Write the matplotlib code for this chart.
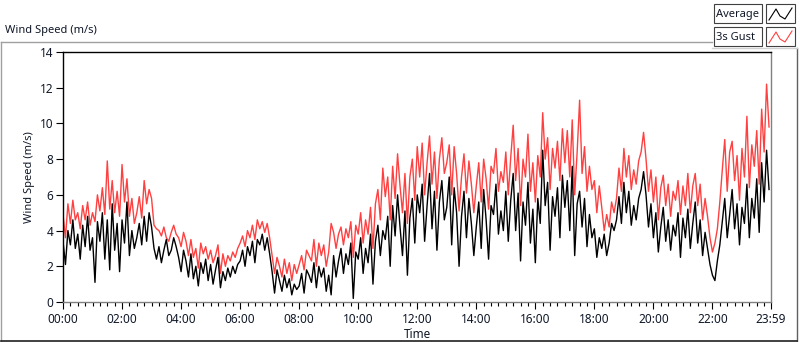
import numpy as np
import matplotlib
matplotlib.use('Agg')
from matplotlib import pyplot as plt
from matplotlib.patches import Rectangle
from matplotlib.lines import Line2D

#%% DATA (5 minute samples, m/s)

avg_speed = [
    3.4, 2.1, 4.0, 3.2, 4.6, 3.0, 3.8, 2.4, 4.3, 3.1, 4.8, 2.9,
    3.6, 1.1, 4.5, 3.4, 5.0, 2.4, 4.6, 1.8, 5.5, 2.9, 4.4, 1.7,
    4.6, 3.3, 5.6, 2.6, 4.0, 3.0, 3.6, 4.4, 3.2, 4.8, 3.4, 5.0,
    4.2, 3.0, 2.4, 3.1, 2.2, 2.9, 3.5, 2.6, 2.9, 3.6, 3.1, 2.5,
    1.7, 2.9, 2.3, 1.4, 2.7, 1.3, 2.0, 0.9, 2.2, 1.6, 2.4, 1.2,
    2.1, 1.0, 1.8, 2.5, 0.8, 1.7, 1.2, 1.9, 1.4, 2.0, 1.6, 2.1,
    2.3, 2.9, 2.0, 3.1, 2.6, 3.4, 2.2, 3.5, 3.2, 3.8, 2.9, 3.6,
    2.7, 1.7, 0.5, 1.8, 1.2, 0.6, 1.5, 0.8, 1.3, 0.4, 1.0, 0.7,
    0.9, 1.6, 0.5, 1.8, 1.5, 1.1, 2.2, 0.8, 2.0, 1.4, 1.9, 0.6,
    1.5, 0.4, 2.6, 1.4, 2.3, 3.0, 1.6, 2.7, 2.1, 3.3, 0.2, 2.8,
    2.4, 3.6, 1.6, 3.0, 2.2, 3.8, 1.0, 3.4, 4.3, 2.6, 4.0, 3.5,
    4.8, 2.0, 5.4, 3.7, 6.0, 4.2, 2.6, 5.1, 1.5, 4.7, 5.8, 3.3,
    6.0, 5.0, 6.6, 3.4, 5.4, 7.2, 4.1, 6.2, 2.9, 5.6, 6.8, 4.6,
    5.3, 7.0, 3.2, 6.4, 5.0, 2.0, 4.8, 6.2, 3.6, 5.8, 4.4, 2.6,
    4.2, 5.6, 3.0, 6.3, 4.6, 2.4, 5.4, 4.9, 6.6, 3.8, 5.1, 4.0,
    6.2, 3.4, 5.7, 7.2, 4.0, 6.1, 2.3, 5.6, 4.3, 6.7, 3.3, 5.2,
    2.2, 5.8, 4.4, 8.5, 5.4, 6.7, 2.9, 5.9, 4.8, 6.4, 3.6, 7.1,
    5.3, 6.8, 4.0, 7.6, 2.6, 5.5, 6.2, 4.2, 5.8, 3.1, 4.9, 3.6,
    4.1, 2.5, 3.6, 3.0, 3.8, 2.6, 3.3, 4.4, 4.0, 4.6, 5.9, 4.4,
    6.7, 5.0, 6.2, 4.3, 5.4, 4.6, 5.8, 6.3, 7.3, 6.0, 4.2, 5.5,
    3.6, 5.0, 2.8, 4.2, 5.3, 3.4, 4.6, 2.9, 4.3, 3.7, 5.0, 2.5,
    4.7, 3.6, 5.2, 3.0, 4.4, 5.6, 3.3, 4.6, 2.6, 3.9, 3.0, 2.1,
    1.5, 1.2, 2.3, 3.2, 4.5, 5.8, 3.6, 4.9, 6.3, 4.1, 5.5, 3.2,
    5.3, 4.4, 6.6, 3.6, 5.8, 4.7, 6.9, 3.9, 7.8, 5.6, 8.5, 6.3,
]

gust_speed = [
    4.9, 3.6, 5.5, 4.4, 5.7, 4.6, 5.0, 4.1, 5.4, 4.6, 5.6, 4.3,
    5.0, 4.5, 6.0, 5.1, 6.4, 4.9, 7.9, 5.2, 6.8, 5.0, 6.2, 4.8,
    7.7, 5.6, 6.9, 4.8, 5.8, 4.4, 5.0, 5.9, 4.7, 6.8, 5.5, 6.3,
    5.8, 4.3, 4.1, 4.0, 3.7, 4.2, 3.6, 3.4, 3.9, 4.3, 3.8, 3.6,
    3.1, 3.9, 3.4, 2.6, 3.5, 2.5, 3.0, 1.9, 3.3, 2.7, 3.1, 2.4,
    2.9, 2.2, 2.6, 3.2, 1.6, 2.7, 2.0, 2.6, 2.3, 2.8, 2.5, 3.0,
    3.3, 3.7, 3.1, 4.0, 3.6, 4.3, 3.5, 4.6, 4.1, 4.5, 3.9, 4.4,
    3.6, 2.6, 1.6, 2.5, 2.0, 1.4, 2.4, 1.6, 2.2, 1.2, 2.1, 1.6,
    2.1, 2.6, 1.8, 2.9, 2.6, 2.3, 3.5, 2.0, 3.3, 2.6, 3.2, 2.0,
    2.8, 4.4, 3.9, 3.0, 3.8, 4.2, 3.2, 4.1, 3.6, 4.5, 2.5, 4.3,
    3.8, 5.0, 3.3, 4.6, 3.8, 5.3, 3.0, 5.5, 6.3, 4.6, 7.5, 5.9,
    7.0, 4.6, 7.6, 5.8, 8.3, 6.5, 5.0, 7.2, 4.4, 7.0, 8.0, 5.7,
    8.7, 7.0, 8.9, 6.0, 7.8, 9.3, 6.6, 8.4, 5.8, 8.0, 9.2, 7.2,
    7.8, 8.8, 6.0, 8.7, 7.2, 5.1, 7.0, 8.3, 6.1, 7.9, 6.6, 5.0,
    6.5, 7.8, 5.6, 8.0, 6.9, 5.2, 7.6, 7.2, 8.6, 6.2, 7.3, 6.7,
    8.4, 6.0, 8.1, 9.9, 6.8, 8.6, 5.4, 8.0, 7.0, 9.4, 6.2, 7.8,
    5.6, 8.2, 7.0, 10.6, 8.0, 9.2, 6.3, 8.6, 7.5, 9.0, 6.8, 9.7,
    7.8, 9.6, 7.0, 10.2, 6.0, 8.4, 11.3, 7.2, 8.7, 6.2, 7.6, 6.3,
    6.8, 5.0, 6.5, 5.3, 4.0, 4.9, 4.2, 5.6, 5.0, 5.8, 7.5, 6.2,
    8.6, 7.0, 8.2, 6.3, 7.4, 6.6, 7.9, 8.4, 9.5, 8.0, 6.2, 7.4,
    5.6, 7.0, 4.6, 6.4, 7.1, 5.4, 6.6, 4.8, 6.2, 5.7, 6.8, 4.9,
    6.5, 5.4, 7.2, 5.0, 6.5, 7.2, 5.4, 6.6, 4.6, 5.8, 4.8, 3.6,
    2.8, 3.3, 4.1, 5.6, 7.4, 9.1, 6.2, 8.4, 9.0, 6.8, 8.2, 5.7,
    8.6, 7.0, 10.4, 6.4, 8.8, 7.6, 9.6, 6.6, 10.8, 8.4, 12.2, 9.8,
]

tick_minutes = [0, 120, 240, 360, 480, 600, 720, 840, 960, 1080, 1200, 1320, 1439]
tick_labels = ['00:00', '02:00', '04:00', '06:00', '08:00', '10:00', '12:00',
               '14:00', '16:00', '18:00', '20:00', '22:00', '23:59']
series_names = ['Average', '3s Gust']
series_colors = ['black', '#ff4040']

#%% FIGURE

W, H = 800, 342
TXT = '#101828'
GRAY = '#a0a0a0'
plt.rcParams['font.family'] = ['Noto Sans', 'DejaVu Sans']


def fx(px):
    return px / W


def fy(py):
    return 1 - py / H


fig = plt.figure(figsize=(W / 100, H / 100), dpi=100)

# panel frame
fig.add_artist(Line2D([fx(1), fx(712)], [fy(42), fy(42)], color=GRAY, lw=1))
fig.add_artist(Line2D([fx(1), fx(1)], [fy(42), fy(341)], color=GRAY, lw=1))
fig.add_artist(Line2D([fx(797), fx(797)], [fy(48), fy(341)], color='#606060', lw=1))
fig.add_artist(Line2D([fx(1), fx(797)], [fy(341), fy(341)], color='#202020', lw=1.2))
fig.add_artist(Line2D([fx(712), fx(797)], [fy(48), fy(48)], color='#d0d0d0', lw=1))
fig.text(fx(5), fy(31), 'Wind Speed (m/s)', fontsize=8, color=TXT,
         ha='left', va='center')

# legend
for i, (name, col) in enumerate(zip(series_names, series_colors)):
    top = 4 + i * 23
    fig.add_artist(Rectangle((fx(714), fy(top + 19)), fx(48), 19 / H,
                             fill=False, ec='#404040', lw=0.8))
    fig.add_artist(Rectangle((fx(766), fy(top + 19)), fx(29), 19 / H,
                             fill=False, ec='#404040', lw=0.8))
    fig.text(fx(716), fy(top + 10), name, fontsize=8, color=TXT,
             ha='left', va='center')
    zx = [769, 776, 780, 785, 792]
    zy = [top + 16, top + 5, top + 12, top + 15, top + 4]
    fig.add_artist(Line2D([fx(v) for v in zx], [fy(v) for v in zy],
                          color=col, lw=0.8))

ax = fig.add_axes([fx(63), fy(302), fx(771) - fx(63), (302 - 52) / H])

minutes = np.arange(len(avg_speed)) * 5
ax.plot(minutes, gust_speed, color=series_colors[1], lw=1.0)
ax.plot(minutes, avg_speed, color=series_colors[0], lw=1.0)

ax.set_xlim(0, 1439)
ax.set_ylim(0, 14)
ax.set_yticks(range(0, 15, 2))
ax.set_xticks(tick_minutes)
ax.set_xticklabels(tick_labels)
ax.set_xticks(np.arange(0, 1440, 15), minor=True)
ax.tick_params(axis='both', which='major', labelsize=8.5, labelcolor=TXT,
               length=5, width=0.8, pad=2)
ax.tick_params(axis='x', which='major', pad=3)
ax.tick_params(axis='x', which='minor', length=3, width=0.8)
ax.tick_params(axis='y', which='minor', left=False)

ax.spines['top'].set_color('black')
ax.spines['left'].set_color('black')
ax.spines['right'].set_color('#808080')
ax.spines['bottom'].set_color('#808080')
for s in ax.spines.values():
    s.set_linewidth(1)

ax.set_xlabel('Time', fontsize=8.5, color=TXT)
ax.xaxis.set_label_coords(0.5, -0.104)
ax.set_ylabel('Wind Speed (m/s)', fontsize=8, color=TXT, labelpad=3)

fig.savefig('out.png', dpi=100)
